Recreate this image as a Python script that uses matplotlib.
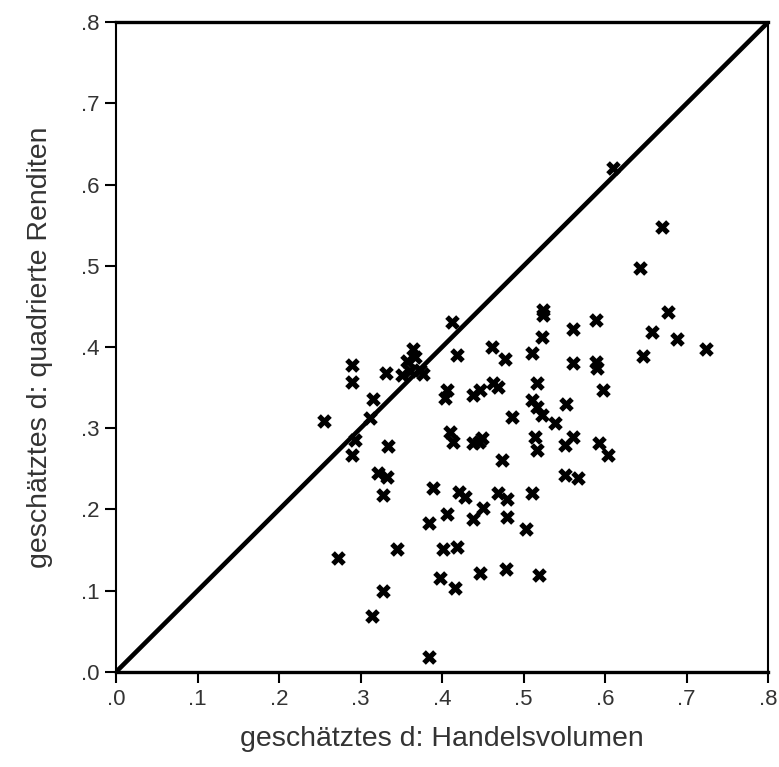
import matplotlib
matplotlib.use('Agg')
import matplotlib.pyplot as plt

# estimated d values
d_volume = [0.610, 0.670, 0.643, 0.677, 0.658, 0.688, 0.724, 0.647, 0.561, 0.589,
            0.561, 0.589, 0.590, 0.598, 0.552, 0.539, 0.561, 0.551, 0.593, 0.604,
            0.551, 0.567, 0.524, 0.524, 0.523, 0.510, 0.517, 0.510, 0.517, 0.523,
            0.514, 0.517, 0.510, 0.503, 0.519, 0.477, 0.461, 0.463, 0.469, 0.486,
            0.474, 0.469, 0.480, 0.480, 0.479, 0.447, 0.450, 0.438, 0.421, 0.428,
            0.438, 0.447, 0.438, 0.449, 0.445, 0.410, 0.413, 0.406, 0.404, 0.412,
            0.418, 0.406, 0.384, 0.389, 0.401, 0.418, 0.398, 0.416, 0.384, 0.345,
            0.272, 0.328, 0.314, 0.328, 0.321, 0.333, 0.334, 0.290, 0.293, 0.312,
            0.255, 0.315, 0.290, 0.290, 0.331, 0.351, 0.357, 0.364, 0.367, 0.373,
            0.377, 0.361]
d_returns = [0.620, 0.548, 0.497, 0.443, 0.418, 0.410, 0.398, 0.389, 0.422, 0.433,
             0.380, 0.382, 0.374, 0.347, 0.330, 0.306, 0.289, 0.279, 0.282, 0.267,
             0.242, 0.239, 0.446, 0.439, 0.412, 0.393, 0.356, 0.335, 0.326, 0.316,
             0.289, 0.273, 0.220, 0.176, 0.119, 0.385, 0.400, 0.356, 0.351, 0.314,
             0.261, 0.220, 0.213, 0.191, 0.127, 0.122, 0.202, 0.188, 0.222, 0.215,
             0.341, 0.347, 0.282, 0.288, 0.283, 0.295, 0.283, 0.347, 0.337, 0.431,
             0.390, 0.194, 0.183, 0.226, 0.151, 0.154, 0.116, 0.103, 0.018, 0.151,
             0.140, 0.100, 0.069, 0.218, 0.245, 0.240, 0.278, 0.267, 0.286, 0.313,
             0.309, 0.336, 0.378, 0.357, 0.368, 0.366, 0.383, 0.398, 0.388, 0.372,
             0.367, 0.370]

ticks = [0.0, 0.1, 0.2, 0.3, 0.4, 0.5, 0.6, 0.7, 0.8]
tick_labels = ['.0', '.1', '.2', '.3', '.4', '.5', '.6', '.7', '.8']

plt.rcParams['font.family'] = ['Liberation Sans', 'DejaVu Sans']

fig = plt.figure(figsize=(7.79, 7.67), dpi=100)
ax = fig.add_axes([0.149, 0.124, 0.837, 0.847])

# 45 degree reference line
ax.plot([0, 0.8], [0, 0.8], color='black', linewidth=3.3, zorder=2)
ax.scatter(d_volume, d_returns, marker='X', s=110, color='black',
           linewidths=0, zorder=3)

ax.set_xlim(0, 0.8)
ax.set_ylim(0, 0.8)
ax.set_xticks(ticks)
ax.set_xticklabels(tick_labels)
ax.set_yticks(ticks)
ax.set_yticklabels(tick_labels)
ax.tick_params(direction='out', length=8, width=1.5, labelsize=16,
               labelcolor='#333333', pad=4)

for side in ['top', 'bottom']:
    ax.spines[side].set_linewidth(2.4)
for side in ['left', 'right']:
    ax.spines[side].set_linewidth(1.5)

ax.set_xlabel('geschätztes d: Handelsvolumen', fontsize=20.5, color='#333333', labelpad=12)
ax.set_ylabel('geschätztes d: quadrierte Renditen', fontsize=20.5, color='#333333', labelpad=20)

fig.savefig('out.png', dpi=100)
